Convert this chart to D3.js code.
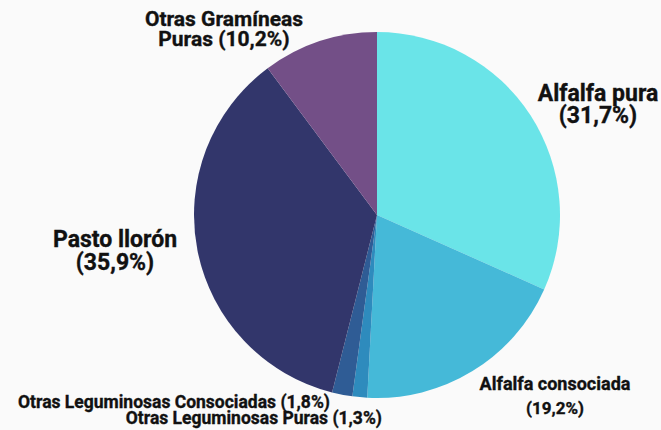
<!DOCTYPE html>
<html>
<head>
<meta charset="utf-8">
<script src="https://cdn.jsdelivr.net/npm/d3@7"></script>
<style>
  body { margin: 0; background: #fafafa; }
  svg { display: block; }
  text { font-family: Roboto, "Noto Sans", sans-serif; font-weight: 700; fill: #111; stroke: #111; stroke-width: 0.35px; }
</style>
</head>
<body>
<div class="chart"></div>
<script>
// data
const cultivos = ["Alfalfa pura", "Alfalfa consociada", "Otras Leguminosas Puras",
                  "Otras Leguminosas Consociadas", "Pasto llorón", "Otras Gramíneas Puras"];
const porcentajes = [31.7, 19.2, 1.3, 1.8, 35.9, 10.2];
const colores = ["#6ae4e8", "#45b9d8", "#2e8bbd", "#2f5c95", "#32366b", "#734f87"];

const width = 661, height = 430;
const cx = 377, cy = 215, radius = 183;

const svg = d3.select(".chart").append("svg")
    .attr("width", width)
    .attr("height", height);

const data = cultivos.map((c, i) => ({name: c, value: porcentajes[i], color: colores[i]}));

const pie = d3.pie().sort(null).value(d => d.value);
const arc = d3.arc().innerRadius(0).outerRadius(radius);

const g = svg.append("g").attr("transform", "translate(" + cx + "," + cy + ")");
g.selectAll("path")
  .data(pie(data))
  .enter()
    .append("path")
    .attr("d", arc)
    .attr("fill", d => d.data.color);

const fmt = v => "(" + String(v).replace(".", ",") + "%)";

// labels: [lines, x, y of first baseline, size, anchor, line gap]
const etiquetas = [
  [["Alfalfa pura", fmt(porcentajes[0])], 598, 101, 23, "middle", 22],
  [["Alfalfa consociada"], 555, 390, 18, "middle", 0],
  [[fmt(porcentajes[1])], 555, 414, 17, "middle", 0],
  [["Otras Leguminosas Puras " + fmt(porcentajes[2])], 382, 424, 17.5, "end", 0],
  [["Otras Leguminosas Consociadas " + fmt(porcentajes[3])], 330, 408, 17.5, "end", 0],
  [["Pasto llorón", fmt(porcentajes[4])], 115, 247, 23, "middle", 23],
  [["Otras Gramíneas", "Puras " + fmt(porcentajes[5])], 224, 26, 21, "middle", 20]
];

etiquetas.forEach(e => {
  const t = svg.append("text")
      .attr("text-anchor", e[4])
      .attr("font-size", e[3] + "px");
  e[0].forEach((line, i) => {
    t.append("tspan").attr("x", e[1]).attr("y", e[2] + i * e[5]).text(line);
  });
});
</script>
</body>
</html>
